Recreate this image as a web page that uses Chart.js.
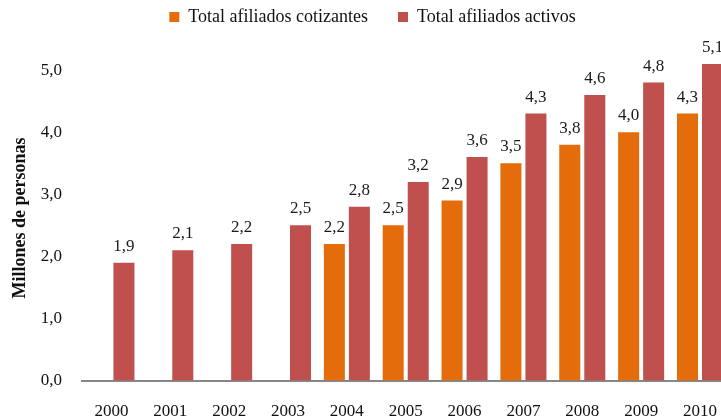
<!DOCTYPE html>
<html>
<head>
<meta charset="utf-8">
<script src="https://cdn.jsdelivr.net/npm/chart.js@4.4.1/dist/chart.umd.min.js"></script>
<style>
  html, body { margin: 0; padding: 0; background: #fff; overflow: hidden; }
  canvas { display: block; }
</style>
</head>
<body>
<canvas id="afiliadosChart" width="738" height="420"></canvas>
<script>
// Datos (millones de personas)
const years = ['2000', '2001', '2002', '2003', '2004', '2005', '2006', '2007', '2008', '2009', '2010'];
const cotizantes = [null, null, null, null, 2.2, 2.5, 2.9, 3.5, 3.8, 4.0, 4.3];
const activos = [1.9, 2.1, 2.2, 2.5, 2.8, 3.2, 3.6, 4.3, 4.6, 4.8, 5.1];
const yTicks = [0, 1, 2, 3, 4, 5];

const FONT = '"Liberation Serif", "DejaVu Serif", serif';
const fmt = v => v.toFixed(1).replace('.', ',');

// Etiquetas de valor sobre cada barra
const valueLabels = {
    id: 'valueLabels',
    afterDatasetsDraw(chart) {
        const ctx = chart.ctx;
        ctx.save();
        ctx.font = '17px ' + FONT;
        ctx.fillStyle = '#1a1a1a';
        ctx.textAlign = 'center';
        ctx.textBaseline = 'bottom';
        chart.data.datasets.forEach((ds, di) => {
            const meta = chart.getDatasetMeta(di);
            meta.data.forEach((bar, i) => {
                const v = ds.data[i];
                if (v === null || v === undefined) return;
                ctx.fillText(fmt(v), bar.x, bar.y - 8);
            });
        });
        ctx.restore();
    }
};

// Titulo del eje Y
const yTitle = {
    id: 'yTitle',
    afterDraw(chart) {
        const ctx = chart.ctx;
        ctx.save();
        ctx.translate(20, 218);
        ctx.rotate(-Math.PI / 2);
        ctx.font = 'bold 18px ' + FONT;
        ctx.fillStyle = '#111';
        ctx.textAlign = 'center';
        ctx.textBaseline = 'middle';
        ctx.fillText('Millones de personas', 0, 0);
        ctx.restore();
    }
};

new Chart(document.getElementById('afiliadosChart'), {
    type: 'bar',
    data: {
        labels: years,
        datasets: [{
            label: 'Total afiliados cotizantes',
            data: cotizantes,
            backgroundColor: '#E46C0A',
            categoryPercentage: 0.85,
            barPercentage: 0.84
        }, {
            label: 'Total afiliados activos',
            data: activos,
            backgroundColor: '#C0504D',
            categoryPercentage: 0.85,
            barPercentage: 0.84
        }]
    },
    options: {
        responsive: false,
        animation: false,
        layout: { padding: { left: 7, right: 0, top: -22, bottom: -23 } },
        plugins: {
            legend: {
                position: 'top',
                labels: {
                    font: { family: FONT, size: 18 },
                    color: '#111',
                    boxWidth: 10,
                    boxHeight: 10,
                    padding: 30
                }
            },
            tooltip: { enabled: false }
        },
        scales: {
            x: {
                grid: { display: false, drawTicks: false },
                border: { color: '#868686', width: 2 },
                ticks: { font: { family: FONT, size: 17 }, color: '#111', padding: 21, maxRotation: 0 }
            },
            y: {
                min: 0,
                max: 5.55,
                grid: { display: false, drawTicks: false },
                border: { display: false },
                afterBuildTicks: axis => { axis.ticks = yTicks.map(v => ({ value: v })); },
                afterFit: axis => { axis.width = 75; },
                ticks: {
                    font: { family: FONT, size: 17 },
                    color: '#111',
                    padding: 20,
                    callback: v => fmt(v)
                }
            }
        }
    },
    plugins: [valueLabels, yTitle]
});
</script>
</body>
</html>
